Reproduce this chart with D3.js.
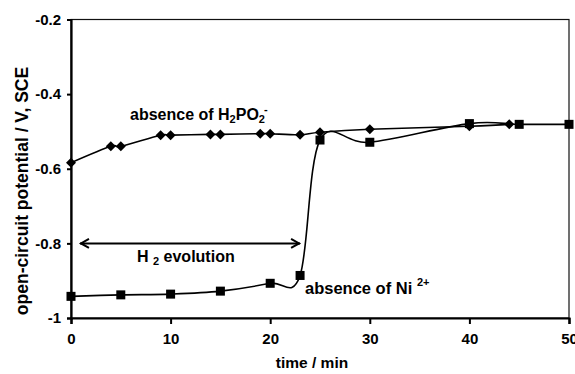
<!DOCTYPE html>
<html>
<head>
<meta charset="utf-8">
<script src="https://cdn.jsdelivr.net/npm/d3@7"></script>
<style>
  body { margin: 0; background: #fff; }
  text { font-family: "Liberation Sans", Arial, sans-serif; font-weight: bold; fill: #000; }
</style>
</head>
<body>
<svg id="chart" width="575" height="374"></svg>
<script>
// absence of H2PO2- (diamonds)
const tDiamond = [0, 4, 5, 9, 10, 14, 15, 19, 20, 23, 25, 30, 40, 44];
const vDiamond = [-0.584, -0.540, -0.540, -0.510, -0.510, -0.508, -0.508, -0.506, -0.506, -0.509, -0.502, -0.494, -0.486, -0.481];

// absence of Ni2+ (squares)
const tSquare = [0, 5, 10, 15, 20, 23, 25, 30, 40, 45, 50];
const vSquare = [-0.942, -0.938, -0.936, -0.928, -0.907, -0.886, -0.523, -0.529, -0.479, -0.481, -0.481];

const xTicks = [0, 10, 20, 30, 40, 50];
const yTicks = [-1, -0.8, -0.6, -0.4, -0.2];
const yTickLabels = ['-1', '-0.8', '-0.6', '-0.4', '-0.2'];

// H2 evolution arrow (time span, potential level)
const arrowSpan = [0.9, 23];
const arrowLevel = -0.8;

const svg = d3.select('#chart');
const x = d3.scaleLinear().domain([0, 50]).range([71, 569]);
const y = d3.scaleLinear().domain([-1, -0.2]).range([318, 19.5]);

// plot frame (thin top / right)
svg.append('rect')
  .attr('x', x(0)).attr('y', y(-0.2))
  .attr('width', x(50) - x(0)).attr('height', y(-1) - y(-0.2))
  .attr('fill', 'none').attr('stroke', '#111').attr('stroke-width', 1.2);

// axes
const xAxis = svg.append('g')
  .attr('transform', `translate(0,${y(-1)})`)
  .call(d3.axisBottom(x).tickValues(xTicks).tickSize(6).tickPadding(9).tickFormat(d3.format('d')));
const yAxis = svg.append('g')
  .attr('transform', `translate(${x(0)},0)`)
  .call(d3.axisLeft(y).tickValues(yTicks).tickSize(4).tickPadding(6)
    .tickFormat((d, i) => yTickLabels[i]));

[xAxis, yAxis].forEach(g => {
  g.select('.domain').attr('stroke', '#000').attr('stroke-width', 2.2);
  g.selectAll('.tick line').attr('stroke', '#000').attr('stroke-width', 2);
  g.selectAll('.tick text').style('font-size', '15px').style('font-family', '"Liberation Sans", Arial, sans-serif')
    .style('font-weight', 'bold').attr('fill', '#000');
});

// axis titles
svg.append('text')
  .attr('x', 312).attr('y', 368)
  .attr('text-anchor', 'middle').style('font-size', '15.5px')
  .text('time / min');
svg.append('text')
  .attr('transform', 'translate(28,191) rotate(-90)')
  .attr('text-anchor', 'middle').style('font-size', '17.5px')
  .text('open-circuit potential / V, SCE');

// series lines (smoothed like the original)
const line = d3.line()
  .x(d => x(d[0])).y(d => y(d[1]))
  .curve(d3.curveCardinal.tension(0));

const diamonds = tDiamond.map((t, i) => [t, vDiamond[i]]);
const squares = tSquare.map((t, i) => [t, vSquare[i]]);

svg.append('path').datum(diamonds).attr('d', line)
  .attr('fill', 'none').attr('stroke', '#000').attr('stroke-width', 1.6);
svg.append('path').datum(squares).attr('d', line)
  .attr('fill', 'none').attr('stroke', '#000').attr('stroke-width', 1.6);

svg.selectAll('.dia').data(diamonds).join('path')
  .attr('class', 'dia')
  .attr('d', d3.symbol().type(d3.symbolDiamond2).size(64))
  .attr('transform', d => `translate(${x(d[0])},${y(d[1])})`)
  .attr('fill', '#000');

svg.selectAll('.sq').data(squares).join('rect')
  .attr('class', 'sq')
  .attr('x', d => x(d[0]) - 4.5).attr('y', d => y(d[1]) - 4.5)
  .attr('width', 9).attr('height', 9)
  .attr('fill', '#000');

// double arrow for H2 evolution
const ay = y(arrowLevel);
const ax0 = x(arrowSpan[0]), ax1 = x(arrowSpan[1]);
svg.append('line')
  .attr('x1', ax0).attr('x2', ax1).attr('y1', ay).attr('y2', ay)
  .attr('stroke', '#000').attr('stroke-width', 2);
svg.append('path')
  .attr('d', `M${ax0 + 9},${ay - 4.5}L${ax0 + 1},${ay}L${ax0 + 9},${ay + 4.5}M${ax1 - 9},${ay - 4.5}L${ax1 - 1},${ay}L${ax1 - 9},${ay + 4.5}`)
  .attr('fill', 'none').attr('stroke', '#000').attr('stroke-width', 2);

// annotations
const lab1 = svg.append('text').attr('x', 137).attr('y', 262).style('font-size', '16px');
lab1.append('tspan').text('H ');
lab1.append('tspan').attr('dy', 3).style('font-size', '11px').text('2');
lab1.append('tspan').attr('dy', -3).text(' evolution');

const lab2 = svg.append('text').attr('x', 130).attr('y', 120).style('font-size', '16px');
lab2.append('tspan').text('absence of H');
lab2.append('tspan').attr('dy', 3).style('font-size', '11px').text('2');
lab2.append('tspan').attr('dy', -3).text('PO');
lab2.append('tspan').attr('dy', 3).style('font-size', '11px').text('2');
lab2.append('tspan').attr('dx', -1).attr('dy', -10).style('font-size', '11px').text('-');

const lab3 = svg.append('text').attr('x', 305).attr('y', 294).style('font-size', '16.5px');
lab3.append('tspan').text('absence of Ni ');
lab3.append('tspan').attr('dy', -8).style('font-size', '11px').text('2+');
</script>
</body>
</html>
